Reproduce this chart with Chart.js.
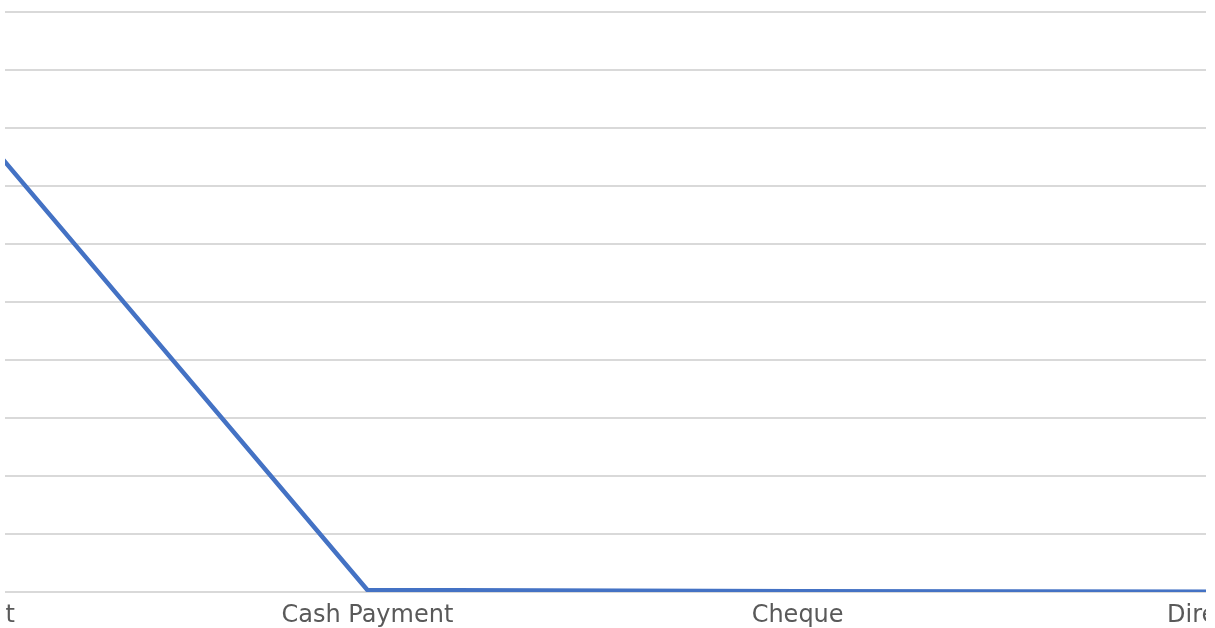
<!DOCTYPE html>
<html>
<head>
<meta charset="utf-8">
<script src="https://cdn.jsdelivr.net/npm/chart.js@4"></script>
<style>
  html, body { margin: 0; padding: 0; background: #fff; overflow: hidden; }
  #wrap { position: absolute; left: 5px; top: 0; width: 1201px; height: 628px; overflow: hidden; }
  #chart { position: absolute; left: -283px; top: 0; }
</style>
</head>
<body>
<div id="wrap"><canvas id="chart" width="1721" height="628"></canvas></div>
<script>
// payment methods, only the middle of the chart is visible
const categories = ["Gift Payment", "Cash Payment", "Cheque", "Direct Pay"];
const values = [8.8, 0.035, 0.012, 0.006];
const yMin = 0;
const yMax = 10;
const yStep = 1;

const ctx = document.getElementById("chart").getContext("2d");
new Chart(ctx, {
  type: "line",
  data: {
    labels: categories,
    datasets: [{
      data: values,
      borderColor: "#4472C4",
      borderWidth: 4.5,
      borderJoinStyle: "round",
      borderCapStyle: "butt",
      pointRadius: 0,
      tension: 0,
      fill: false
    }]
  },
  options: {
    responsive: false,
    animation: false,
    devicePixelRatio: 1,
    layout: { padding: { top: 12, left: 0, right: 0, bottom: 0 } },
    plugins: { legend: { display: false }, tooltip: { enabled: false } },
    scales: {
      x: {
        offset: true,
        grid: { display: false, drawTicks: false },
        border: { display: false },
        ticks: {
          color: "#595959",
          font: { family: "DejaVu Sans", size: 24 },
          padding: 9,
          maxRotation: 0,
          autoSkip: false
        },
        afterFit: (s) => { s.height = 36; }
      },
      y: {
        min: yMin,
        max: yMax,
        ticks: { display: false, stepSize: yStep },
        grid: { color: "#d9d9d9", lineWidth: 2, drawTicks: false },
        border: { display: false },
        afterFit: (s) => { s.width = 0; }
      }
    }
  }
});
</script>
</body>
</html>
